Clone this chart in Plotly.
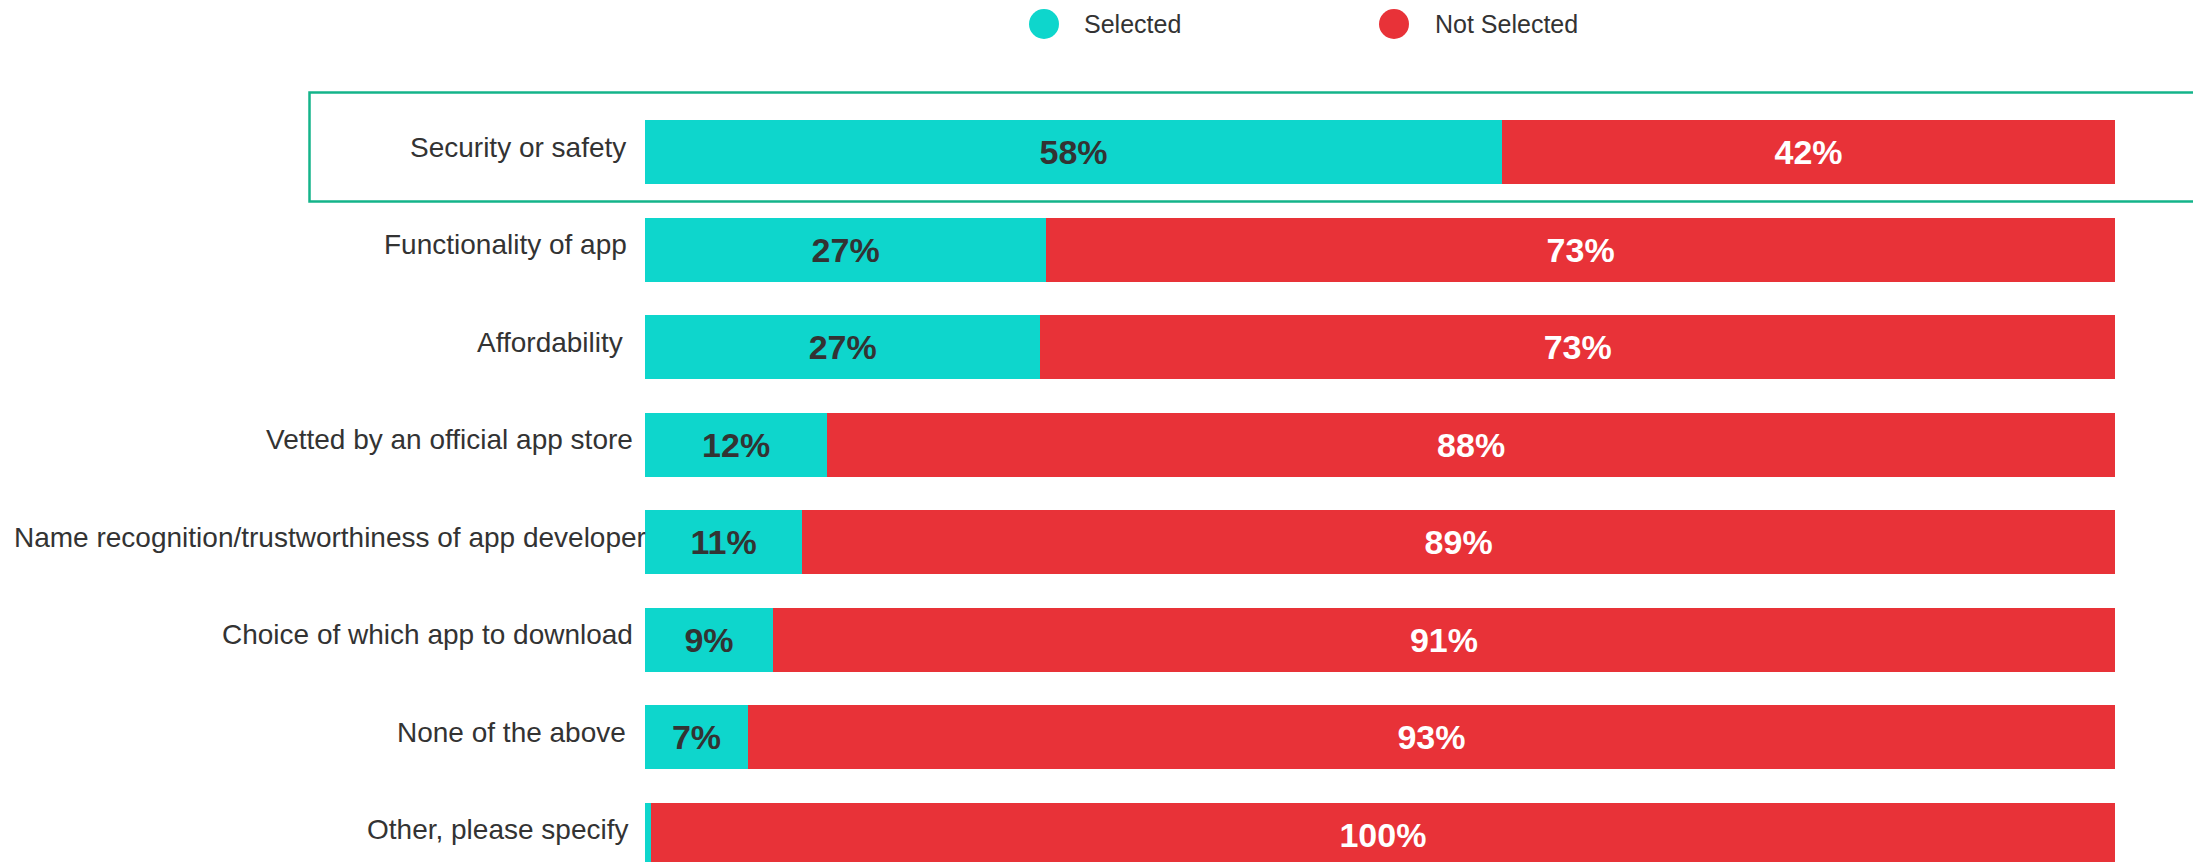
import plotly.graph_objects as go

categories = [
    "Security or safety",
    "Functionality of app",
    "Affordability",
    "Vetted by an official app store",
    "Name recognition/trustworthiness of app developer",
    "Choice of which app to download",
    "None of the above",
    "Other, please specify",
]
selected = [58.3, 27.3, 26.9, 12.4, 10.7, 8.7, 7.0, 0.4]
not_selected = [round(100 - v, 1) for v in selected]
series_names = ["Selected", "Not Selected"]
# labels too long for the label column are left-aligned at the page edge instead
overflow_labels = ["Name recognition/trustworthiness of app developer"]

TEAL = "#0ED6CC"
RED = "#E83238"
BORDER = "#14B48A"
TEXT = "#333333"

def labels(vals):
    return [f"{round(v)}%" if v >= 1 else "" for v in vals]

# page body has an 8px margin; work in page pixels and convert
OFF = 8
W, H = 2201 - OFF, 862 - OFF
L, R, T, B = 645 - OFF, 86, 80 - OFF, 0
plot_w = W - L - R
plot_h = H - T - B
ROW = 97.5
FIRST = 152 - OFF  # centre of first row in figure pixels

fig = go.Figure()
fig.add_trace(go.Bar(
    y=categories, x=selected, orientation="h", name=series_names[0],
    marker=dict(color=TEAL, line=dict(width=0)),
    text=labels(selected), textposition="inside", insidetextanchor="middle",
    textfont=dict(family="Liberation Sans", size=34, color=TEXT, weight="bold"),
    showlegend=False, hoverinfo="x+y",
))
fig.add_trace(go.Bar(
    y=categories, x=not_selected, orientation="h", name=series_names[1],
    marker=dict(color=RED, line=dict(width=0)),
    text=labels(not_selected), textposition="inside", insidetextanchor="middle",
    textfont=dict(family="Liberation Sans", size=34, color="white", weight="bold"),
    showlegend=False, hoverinfo="x+y",
))

# page pixel -> paper helpers for decorations
def px_x(p):
    return (p - OFF - L) / plot_w

def px_y(p):
    return (H - B - (p - OFF)) / plot_h

# category labels (the source's right alignment drifts slightly with label length)
for cat in categories:
    if cat in overflow_labels:
        fig.add_annotation(text=cat, xref="paper", yref="y", x=px_x(12), y=cat,
                           xanchor="left", yanchor="middle", yshift=5, showarrow=False,
                           font=dict(family="Liberation Sans", size=28, color=TEXT))
    else:
        fig.add_annotation(text=cat, xref="paper", yref="y", x=0, y=cat,
                           xanchor="right", yanchor="middle",
                           xshift=-27 + 0.56 * len(cat), yshift=5,
                           showarrow=False,
                           font=dict(family="Liberation Sans", size=28, color=TEXT))

# highlight box around first category
fig.add_shape(type="rect", xref="paper", yref="paper",
              x0=px_x(309.5), x1=px_x(2196), y0=px_y(201.5), y1=px_y(92.5),
              line=dict(color=BORDER, width=2.5), fillcolor="rgba(0,0,0,0)", layer="below")

# custom legend with large circles
legend_items = [(series_names[0], TEAL, 1044, 1082), (series_names[1], RED, 1394, 1433)]
for name, col, cx, tx in legend_items:
    fig.add_shape(type="circle", xref="paper", yref="paper",
                  xsizemode="pixel", ysizemode="pixel",
                  xanchor=px_x(cx), yanchor=px_y(24),
                  x0=-15, x1=15, y0=-15, y1=15,
                  fillcolor=col, line=dict(width=0))
    fig.add_annotation(text=name, xref="paper", yref="paper",
                       x=px_x(tx), y=px_y(24), xanchor="left", yanchor="middle",
                       showarrow=False,
                       font=dict(family="Liberation Sans", size=25, color=TEXT))

fig.update_layout(
    width=W, height=H,
    margin=dict(l=L, r=R, t=T, b=B, pad=0, autoexpand=False),
    barmode="stack", bargap=0.3436,
    plot_bgcolor="white", paper_bgcolor="white",
    font=dict(family="Liberation Sans", size=28, color=TEXT),
    xaxis=dict(range=[0, 100], visible=False, showgrid=False, zeroline=False,
               automargin=False),
    yaxis=dict(
        categoryorder="array", categoryarray=categories,
        range=[(H - B - FIRST) / ROW, (T - FIRST) / ROW],
        showgrid=False, zeroline=False, showline=False, ticks="",
        showticklabels=False, automargin=False,
    ),
)

fig.write_html("out.html")
